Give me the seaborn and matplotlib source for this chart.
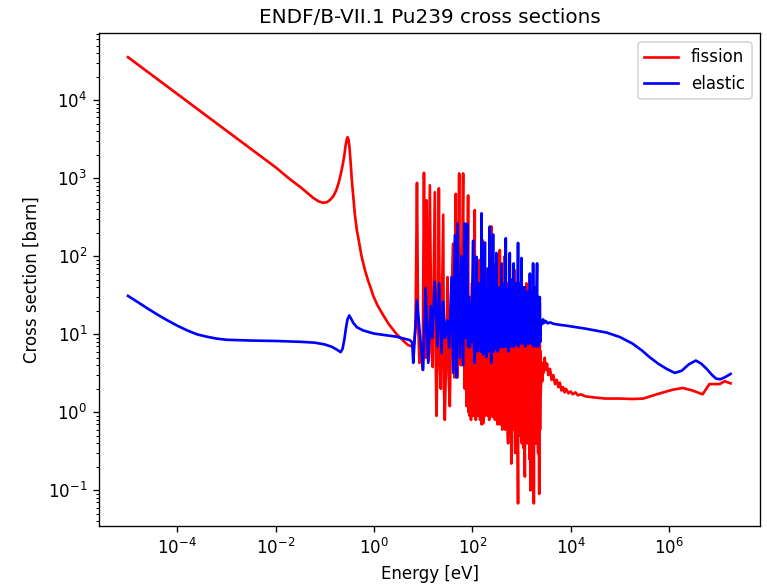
import matplotlib
matplotlib.use("Agg")
import matplotlib.pyplot as plt
import seaborn as sns

# fission cross section: energy [eV] and sigma [barn]
fission_E = [
    1e-5, 1e-4, 1e-3, 1e-2, 0.02, 0.032, 0.045, 0.058, 0.075, 0.09,
    0.11, 0.13, 0.15, 0.17, 0.19, 0.21, 0.23, 0.25, 0.265, 0.28,
    0.292, 0.305, 0.32, 0.337, 0.355, 0.38, 0.41, 0.45, 0.5, 0.56,
    0.65, 0.75, 0.85, 0.97, 1.2, 1.55, 2.0, 2.9, 4.0, 4.9,
    5.8, 6.5, 7.0, 7.5, 7.9, 8.4, 9.2, 9.8, 10.4, 11.0,
    11.4, 11.8, 12.3, 12.8, 13.7, 14.8, 15.6, 17.3, 18.2, 18.7,
    20.0, 20.9, 22.0, 22.9, 25.6, 26.5, 27.6, 29.5, 31.4, 33,
    34.9, 37, 40.8, 42, 43.5, 46.2, 48, 49.6, 52, 54.0,
    56, 58.4, 61, 65.0, 67, 70.4, 74, 76, 78, 82,
    84, 86, 88, 90, 92, 94, 96, 99, 101, 104,
    106, 108, 110, 112, 114, 116, 118, 121, 123, 126,
    128, 131, 133, 136, 138, 141, 144, 147, 150, 152,
    155, 157, 160, 163, 166, 169, 172, 175, 178, 181,
    185, 188, 192, 196, 200, 204, 208, 212, 216, 220,
    224, 228, 232, 236, 240, 245, 248, 252, 258, 262,
    266, 270, 275, 280, 284, 288, 293, 297, 302, 307,
    312, 317, 322, 327, 333, 339, 345, 350, 354, 358,
    362, 368, 375, 382, 390, 395, 400, 406, 412, 417,
    422, 428, 435, 445, 457, 463, 470, 477, 485, 492,
    500, 507, 515, 524, 534, 545, 555, 566, 577, 586,
    595, 608, 620, 630, 640, 650, 660, 670, 680, 690,
    700, 714, 728, 736, 745, 757, 770, 780, 790, 805,
    820, 835, 850, 860, 870, 885, 900, 915, 930, 945,
    960, 980, 1000, 1015, 1030, 1045, 1060, 1075, 1090, 1110,
    1130, 1150, 1170, 1190, 1210, 1235, 1260, 1280, 1300, 1320,
    1340, 1360, 1380, 1400, 1420, 1440, 1460, 1490, 1520, 1535,
    1550, 1570, 1590, 1610, 1630, 1655, 1680, 1705, 1730, 1755,
    1780, 1800, 1820, 1845, 1870, 1895, 1920, 1940, 1960, 1980,
    2000, 2030, 2060, 2090, 2120, 2150, 2180, 2210, 2240, 2265,
    2290, 2320, 2350, 2380, 2400, 2430, 2450,
    2550, 2650, 2700, 2800, 2960, 3100, 3300, 3500, 3800, 4100,
    4400, 4800, 5200, 5600, 6000, 6500, 7000, 7500, 8000, 9000,
    10000, 11000, 12500, 14000, 16000, 20000, 30000, 50000, 1e5, 1.8e5,
    3e5, 5.6e5, 1.2e6, 1.9e6, 3e6, 4.8e6, 6.6e6, 1.07e7, 1.35e7, 1.78e7,
]
fission_xs = [
    35500, 12000, 4070, 1380, 960, 770, 640, 560, 505, 485,
    490, 530, 590, 690, 850, 1100, 1450, 1950, 2600, 3150,
    3350, 3100, 2400, 1550, 950, 575, 340, 215, 150, 100,
    68, 50, 40, 31, 23, 17.5, 13.5, 10, 8.2, 7.3,
    7.0, 7.4, 12, 870, 15, 4.3, 6, 3.5, 1170, 6,
    5, 520, 8, 4.6, 810, 6, 3.8, 660, 3, 0.9,
    12, 740, 4, 2, 340, 2, 0.8, 6, 54, 3,
    1.2, 20, 145, 6, 2.8, 630, 6, 2.8, 40, 1150,
    12, 4, 25, 1150, 8, 2, 200, 1.2, 3, 600,
    1.0, 4, 0.9, 30, 1.5, 0.8, 12, 45, 1.5, 0.9,
    12, 25, 1.2, 390, 1.0, 3, 0.8, 60, 1.5, 1.4,
    15, 40, 0.9, 2, 20, 90, 0.8, 3, 1.0, 20,
    0.7, 1.2, 12, 160, 0.72, 10, 35, 1.0, 2.5, 0.9,
    70, 1.0, 1.5, 15, 30, 0.9, 2, 20, 50, 0.8,
    1.1, 14, 110, 0.9, 3, 240, 1.0, 2, 0.87, 20,
    45, 0.9, 3, 18, 80, 0.8, 1.5, 12, 35, 0.9,
    2.5, 15, 60, 0.7, 1.2, 14, 30, 0.8, 2, 18,
    120, 0.7, 3, 12, 0.83, 15, 40, 0.6, 1.5, 14,
    25, 0.7, 1.0, 18, 100, 0.6, 2, 14, 30, 0.7,
    1.1, 15, 45, 0.6, 0.4, 12, 20, 0.8, 81, 0.5,
    1.0, 14, 0.22, 10, 30, 0.6, 2, 12, 0.6, 10,
    25, 0.7, 66, 0.5, 0.3, 12, 20, 0.6, 1.5, 14,
    35, 0.4, 0.068, 10, 15, 0.5, 1.0, 12, 28, 0.6,
    0.5, 15, 49, 0.4, 0.8, 12, 22, 0.5, 0.35, 14,
    30, 0.5, 0.15, 10, 18, 0.6, 45, 0.5, 0.4, 12,
    25, 0.5, 0.6, 10, 20, 0.5, 0.25, 12, 0.1, 8,
    15, 0.4, 36, 0.6, 0.5, 10, 20, 0.5, 0.3, 10,
    0.068, 8, 18, 0.4, 0.7, 12, 24, 0.5, 0.4, 10,
    33, 0.5, 0.6, 10, 18, 0.5, 0.3, 9, 14, 0.4,
    0.09, 8, 25, 0.6, 1.2, 6, 1.7,
    3.5, 2.5, 4.3, 3.2, 5.0, 3.5, 4.2, 3.0, 3.6, 2.6,
    3.0, 2.3, 2.6, 2.1, 2.4, 1.9, 2.1, 1.8, 2.0, 1.75,
    1.85, 1.7, 1.8, 1.65, 1.7, 1.6, 1.55, 1.5, 1.5, 1.48,
    1.5, 1.7, 1.95, 2.05, 1.9, 1.7, 2.3, 2.3, 2.5, 2.35,
]

# elastic cross section
elastic_E = [
    1e-5, 1.6e-5, 2.5e-5, 4e-5, 6.3e-5, 1e-4, 1.6e-4, 2.5e-4, 4e-4, 6.3e-4,
    1e-3, 3.2e-3, 1e-2, 3.2e-2, 6.3e-2, 0.1, 0.14, 0.18, 0.21, 0.23,
    0.25, 0.27, 0.29, 0.315, 0.34, 0.38, 0.45, 0.6, 1.0, 2.9,
    5.4, 6.0, 6.3, 7.5, 8.6, 10.0, 11.2, 12.7, 14.2, 15.3,
    17.3, 19.6, 21.2, 23.7, 25.6, 27.7, 30.8, 33.8, 37.8, 40.8,
    44.2, 47.7, 50, 55.7, 60.3, 65, 70, 74, 78.5, 82,
    85, 89, 93, 97, 100, 104, 108, 112, 116, 119,
    122, 126, 130, 134, 138, 142, 146, 150, 154, 158,
    162, 166, 170, 175, 180, 184, 188, 194, 199, 204,
    210, 215, 220, 227, 232, 238, 245, 250, 256, 264,
    270, 276, 282, 288, 295, 302, 309, 316, 323, 330,
    338, 346, 354, 362, 370, 380, 392, 400, 410, 422,
    432, 442, 452, 462, 470, 479, 490, 500, 512, 525,
    537, 550, 562, 577, 590, 605, 620, 635, 650, 665,
    680, 694, 710, 725, 742, 760, 780, 800, 820, 850,
    870, 890, 910, 935, 960, 980, 1000, 1025, 1050, 1075,
    1100, 1130, 1150, 1170, 1200, 1230, 1260, 1290, 1320, 1350,
    1380, 1420, 1450, 1480, 1510, 1540, 1570, 1600, 1630, 1660,
    1690, 1720, 1750, 1790, 1820, 1860, 1900, 1940, 1980, 2020,
    2070, 2110, 2150, 2200, 2240, 2290, 2350, 2400, 2450, 2550,
    2650, 2750, 2900, 3100, 3400, 3800, 4500, 6000, 8000, 11000,
    20000, 54000, 1e5, 1.8e5, 2.8e5, 4e5, 6e5, 8.9e5, 1.3e6, 1.8e6,
    2.5e6, 3.5e6, 4.5e6, 5.8e6, 7.5e6, 9e6, 1.1e7, 1.35e7, 1.78e7,
]
elastic_xs = [
    31, 25.7, 21.4, 17.8, 15.1, 12.9, 11.2, 10.0, 9.3, 8.8,
    8.5, 8.3, 8.2, 8.0, 7.8, 7.4, 6.9, 6.3, 5.9, 6.5,
    8.5, 12, 15.5, 17.4, 16, 14, 12.3, 11.2, 10.2, 9.3,
    8.4, 7.8, 4.3, 27, 10, 3.5, 39, 4.3, 23, 9,
    47, 7, 45, 5.8, 26, 9, 15, 6.8, 54, 3.2,
    186, 2.8, 263, 5, 100, 4, 263, 9, 260, 7,
    30, 6.8, 25, 8, 40, 158, 7, 4.3, 35, 9,
    98, 6, 28, 7.5, 45, 8.3, 22, 6, 355, 7,
    30, 5.5, 60, 8, 150, 6, 35, 5.1, 28, 8,
    70, 6, 30, 240, 7, 25, 4.3, 45, 7, 190,
    6, 30, 8, 50, 6.5, 25, 110, 7, 35, 6,
    28, 8, 40, 6.8, 22, 8, 81, 7, 30, 6.8,
    25, 8, 45, 7, 22, 170, 7, 35, 8, 28,
    6, 40, 8, 110, 7, 30, 8.5, 50, 7, 25,
    9, 81, 7, 30, 8, 45, 7.5, 28, 8, 148,
    7, 30, 9, 45, 8, 25, 95, 7.5, 30, 9,
    40, 8, 22, 40, 7, 28, 9, 35, 8, 25,
    7.5, 30, 9, 60, 8, 25, 9, 35, 7.5, 28,
    8, 81, 7, 30, 9, 40, 8, 25, 7, 30,
    81, 8, 25, 7, 30, 9, 30, 8, 14, 15,
    13.5, 15.5, 14, 14.8, 13.8, 14.2, 13.6, 13.2, 12.9, 12.5,
    11.8, 10.5, 9.2, 7.6, 6.2, 5.1, 4.2, 3.6, 3.2, 3.4,
    4.1, 4.6, 4.2, 3.6, 3.0, 2.7, 2.65, 2.8, 3.1,
]

# decade ticks shown on each axis
x_ticks = [1e-4, 1e-2, 1e0, 1e2, 1e4, 1e6]
y_ticks = [1e-1, 1e0, 1e1, 1e2, 1e3, 1e4]

fig, ax = plt.subplots(figsize=(767 / 120, 586 / 120), dpi=120)
fig.subplots_adjust(left=0.129, right=0.991, top=0.943, bottom=0.102)
ax.set_xscale("log")
ax.set_yscale("log")

sns.lineplot(x=fission_E, y=fission_xs, color="red", label="fission",
             estimator=None, sort=False, linewidth=1.6, ax=ax)
sns.lineplot(x=elastic_E, y=elastic_xs, color="blue", label="elastic",
             estimator=None, sort=False, linewidth=1.6, ax=ax)

ax.set_xticks(x_ticks)
ax.set_yticks(y_ticks)
ax.set_xlim(10 ** -5.59, 10 ** 7.85)
ax.set_ylim(10 ** -1.46, 10 ** 4.855)
ax.set_xlabel("Energy [eV]")
ax.set_ylabel("Cross section [barn]")
ax.set_title("ENDF/B-VII.1 Pu239 cross sections")
ax.legend(loc="upper right")

fig.savefig("out.png", dpi=120)
